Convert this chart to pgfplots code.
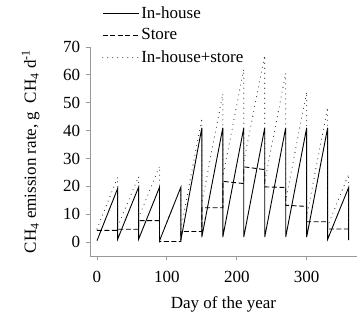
\documentclass[border=0pt]{standalone}
\usepackage{fontspec}
\setmainfont{Liberation Serif}
\usepackage{pgfplots}
\pgfplotsset{compat=1.18}
\begin{document}
\fontsize{17}{21}\selectfont
\begin{tikzpicture}
\useasboundingbox (-90pt,-65pt) rectangle (268pt,256pt);
\begin{axis}[
 scale only axis, width=267pt, height=209pt,
 xmin=-10, xmax=372, ymin=-5, ymax=70,
 axis lines=left, axis line style={-, gray!80, line width=0.8pt},
 tick style={gray!80, line width=0.8pt},
 tick align=outside, major tick length=4pt,
 xtick={0,100,200,300}, ytick={0,10,...,70},
 /pgf/number format/assume math mode=true,
 tick label style={font=\fontsize{17}{20}\selectfont},
 xticklabel style={yshift=-5pt},
 label style={font=\fontsize{17}{20}\selectfont},
 xlabel style={yshift=-3pt},
 ylabel style={yshift=12pt},
 xlabel={Day of the year},
 ylabel={CH\textsubscript{4} emission rate, g\ \ CH\textsubscript{4} d\textsuperscript{-1}},
 legend style={draw=none, fill=none, at={(0.045,1.205)}, anchor=north west, font=\fontsize{17}{21}\selectfont, row sep=4pt, inner sep=0pt},
 legend cell align=left,
 legend image code/.code={\draw[#1] (0pt,0pt) -- (36pt,0pt);},
 clip=false,
]
\addplot[black, line width=0.9pt] coordinates {
(0,0.5) (29.5,19.2) (29.5,1.0) (59.5,19.7) (59.5,1.0) (89.5,19.7) (89.5,0.5)
(120,19.7) (120,0.7) (150,41) (150,1.8) (180,41) (180,1.8) (210,41) (210,1.8)
(240,41) (240,1.8) (270,41) (270,1.8) (300,41) (300,1.8) (330,41) (330,1.0)
(360,19.6) (360,0.7)};
\addlegendentry{In-house}
\addplot[black, line width=0.9pt, dash pattern=on 5pt off 2.5pt] coordinates {
(0,4.2) (29.5,4.2) (29.5,4.6) (59.5,4.6) (59.5,7.7) (89.5,7.7) (89.5,0.2)
(120,0.2) (120,3.8) (150,3.8) (150,12.3) (180,12.3) (180,21.8) (210,21.0)
(210,27.0) (240,26.0) (240,19.8) (270,19.6) (270,13.2) (300,12.8) (300,7.3)
(330,7.3) (330,4.7) (360,4.7)};
\addlegendentry{Store}
\addplot[black!85, line width=1.1pt, line cap=round, dash pattern=on 0pt off 5pt] coordinates {
(0,4.7) (29.5,23.2) (29.5,5.5) (59.5,23.5) (59.5,8.7) (89.5,27.2) (89.5,0.7)
(120,19.7) (120,4.5) (150,44.5) (150,14.0) (180,53.2) (180,23.5) (210,62.0)
(210,28.8) (240,67.0) (240,21.6) (270,60.6) (270,15.0) (300,53.8) (300,9.1)
(330,48.3) (330,5.7) (360,24.3) (360,5.4)};
\addlegendentry{In-house+store}
\end{axis}
\end{tikzpicture}
\end{document}
